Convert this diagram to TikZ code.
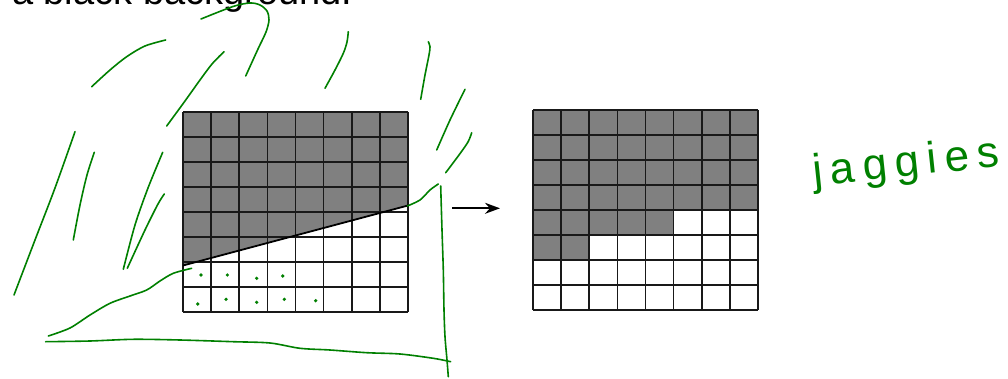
\documentclass[tikz,border=0pt]{standalone}
\usepackage{fontspec}
\setmainfont{Liberation Sans}
\newfontfamily\handfont[LetterSpace=18]{Liberation Sans}
\usetikzlibrary{arrows.meta}
\definecolor{ink}{RGB}{0,128,0}
\definecolor{cellgray}{RGB}{128,128,128}
\tikzset{
  gridline/.style={black!90, line width=1.6pt},
  pen/.style={ink, line width=1.6pt, line cap=round, line join=round},
  edgeline/.style={black, line width=1.8pt},
}
\begin{document}
\begin{tikzpicture}[x=1pt,y=-1pt]
\useasboundingbox (0,0) rectangle (1008,379);
\begin{scope}
\clip (0,0) rectangle (1008,379);
\fill[white] (0,0) rectangle (1008,379);
% cut-off heading
\node[anchor=base west, inner sep=0pt, font=\fontsize{38}{40}\selectfont] (head) at (12,4.3) {a black background.};

% left grid
\fill[cellgray] (183,112) -- (408,112) -- (408,205.5) -- (183,265.5) -- cycle;
\foreach \i in {0,...,8} {
  \draw[gridline] (183+\i*28.125,112) -- (183+\i*28.125,312);
  \draw[gridline] (183,112+\i*25) -- (408,112+\i*25);
}
\draw[edgeline] (183,265.5) -- (408,205.5);

% right grid
\fill[cellgray] (533,110) -- (758,110) -- (758,210) -- (533+5*28.125,210) -- (533+5*28.125,235)
  -- (533+2*28.125,235) -- (533+2*28.125,260) -- (533,260) -- cycle;
\foreach \i in {0,...,8} {
  \draw[gridline] (533+\i*28.125,110) -- (533+\i*28.125,310);
  \draw[gridline] (533,110+\i*25) -- (758,110+\i*25);
}

% arrow
\coordinate (a1) at (452,208.3);
\coordinate (a2) at (500,208.3);
\draw[black, line width=1.8pt, -{Stealth[length=15pt,width=11pt]}] (a1) -- (a2);

% handwritten label
\node[ink, anchor=base west, inner sep=0pt, rotate=6, font=\handfont\fontsize{44}{46}\selectfont] (jag) at (814,186) {jaggies};

% green strokes
\draw[pen] plot[smooth] coordinates {(91.7,86.7) (110,70) (126.7,56.7) (145,46) (165.7,40)};
\draw[pen] plot[smooth] coordinates {(166.7,126) (185,101) (200,80) (212,64) (224,51.7)};
\draw[pen] plot[smooth] coordinates {(245.7,76) (258,49) (266,32) (269,20) (267,11) (260,5) (250,3) (233,6.5) (201,19)};
\draw[pen] plot[smooth] coordinates {(325,88.3) (335,70) (343.3,53.3) (347,42) (348.3,31.7)};
\draw[pen] plot[smooth] coordinates {(420.7,99.3) (425,75) (429,55) (430,46.7) (428.3,41.7)};
\draw[pen] plot[smooth] coordinates {(436.7,150) (450,120) (465,89.3)};
\draw[pen] plot[smooth] coordinates {(445.7,172.7) (459,155) (468,142) (471.7,132.7)};
\draw[pen] plot[smooth] coordinates {(14,295) (35,240) (55,188) (75,131.7)};
\draw[pen] plot[smooth] coordinates {(73.3,240) (80,205) (87,175) (94.3,152.3)};
\draw[pen] plot[smooth] coordinates {(123.3,269.3) (135,225) (148,188) (162.7,152.3)};
\draw[pen] plot[smooth] coordinates {(127.3,268.3) (145,230) (158,204) (164.3,194)};
\draw[pen] plot[smooth] coordinates {(48.3,336) (70,328) (90,315) (110,303.3) (130,296) (146.7,290) (160,281) (173.3,273.3) (191.7,268.3)};
\draw[pen] plot[smooth] coordinates {(407.3,206) (420,200) (430,190) (438.3,184)};
\draw[pen] plot[smooth] coordinates {(440.7,186) (442,230) (443.3,270) (444,310) (445,336.7) (447,360) (448.3,376.7)};
\draw[pen] plot[smooth] coordinates {(45.7,341.7) (90,341) (133.3,339.3) (180,340) (233.3,341.7) (270,343) (300,348.3) (330,350) (366.7,352.7) (400,354) (433.3,358.3) (450.7,361.7)};

% dots
\foreach \p in {(201,275),(227.3,275),(256.7,278.3),(282.7,276),(197.7,304),(226,299.3),(256.7,302.3),(284.3,299.3),(315.7,300.7)}
  \fill[ink] \p circle (1.8);
\end{scope}
\end{tikzpicture}
\end{document}
